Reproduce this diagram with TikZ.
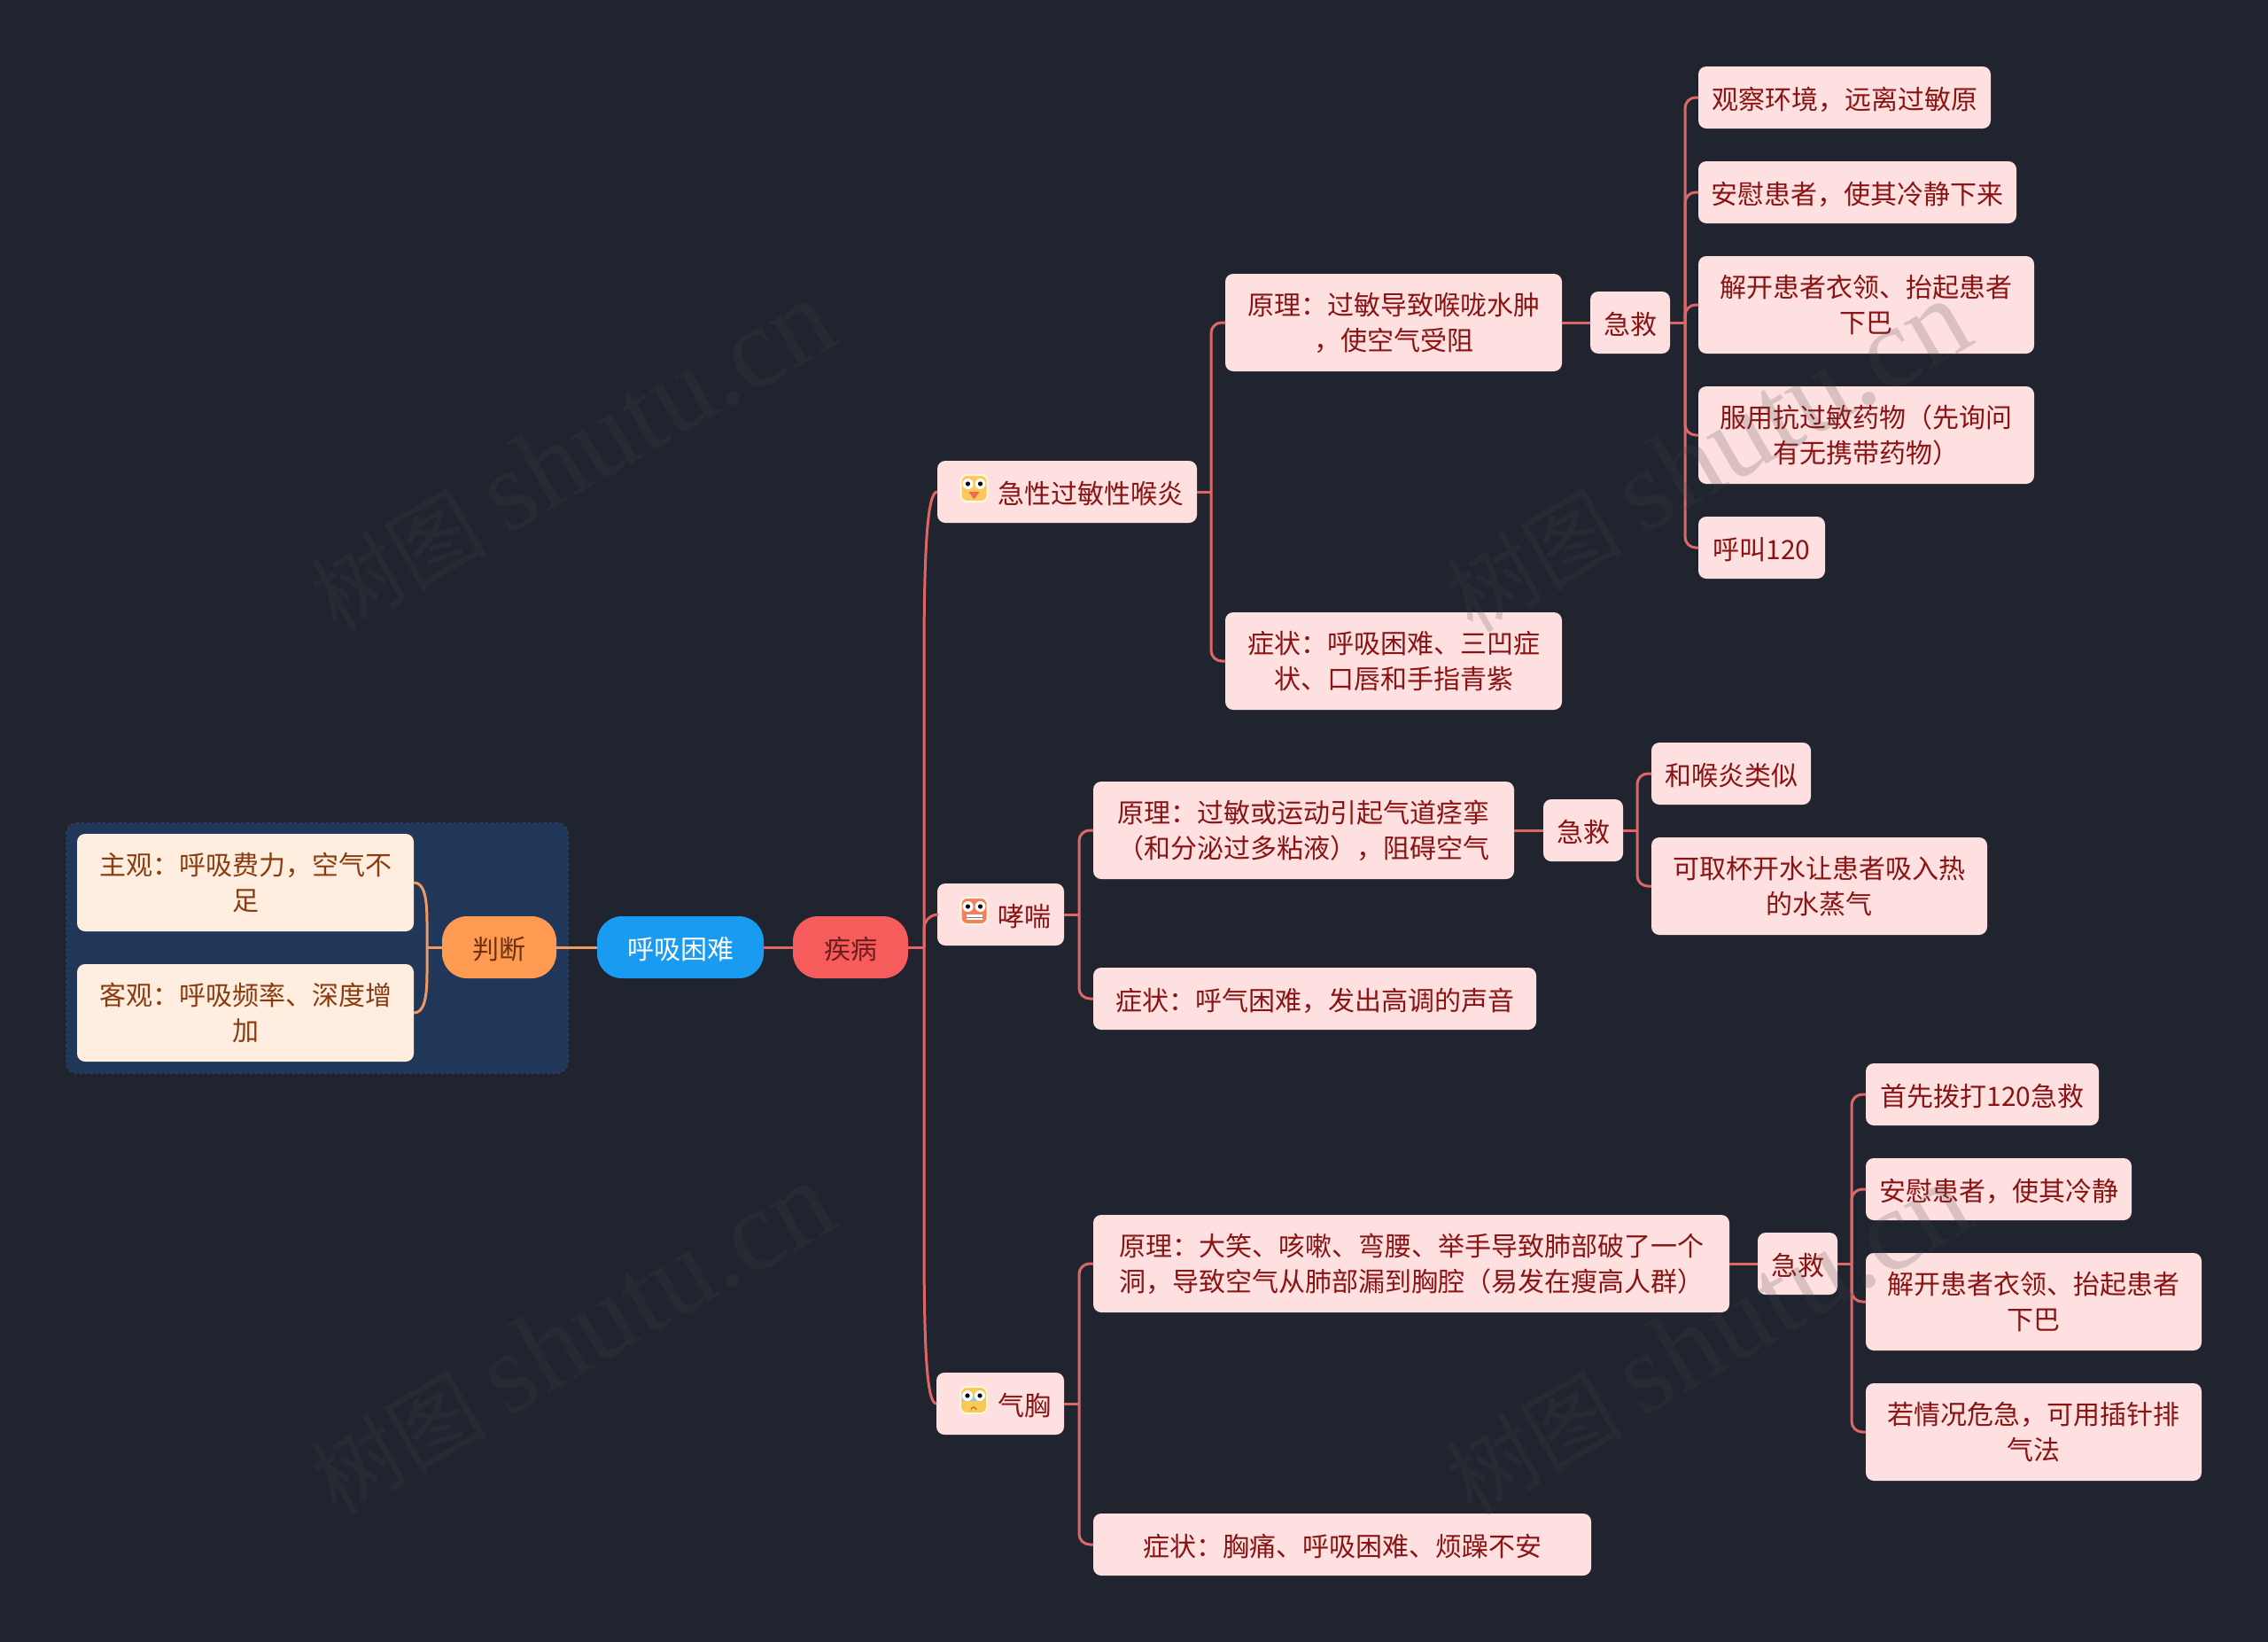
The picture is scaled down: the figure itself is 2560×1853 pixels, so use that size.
\documentclass[tikz,border=0pt]{standalone}
\usepackage{fontspec}
\setmainfont{Noto Sans CJK SC}
\newfontfamily\wmlatin{Liberation Serif}
\usetikzlibrary{calc}
\definecolor{bgc}{HTML}{20242F}
\definecolor{groupc}{HTML}{21375A}
\definecolor{groupe}{HTML}{2A3D5E}
\definecolor{pinkc}{HTML}{FFE0E0}
\definecolor{pinkt}{HTML}{8A1414}
\definecolor{creamc}{HTML}{FFEEE0}
\definecolor{creamt}{HTML}{8A3C10}
\definecolor{orangec}{HTML}{FF9A52}
\definecolor{oranget}{HTML}{6E3210}
\definecolor{redc}{HTML}{F75C5C}
\definecolor{redt}{HTML}{6E1C1C}
\definecolor{bluec}{HTML}{1A9BF2}
\definecolor{linec}{HTML}{E06666}
\definecolor{linef}{HTML}{F09A60}
\definecolor{wmc}{HTML}{464646}
\definecolor{iconedge}{HTML}{FFF6E0}
\definecolor{facey}{HTML}{FDC75B}
\definecolor{facer}{HTML}{F47F5E}
\definecolor{facep}{HTML}{F9C956}
\definecolor{tongue}{HTML}{E96B5B}
\definecolor{tear}{HTML}{96C8E1}
\definecolor{frown}{HTML}{BE6E32}
\tikzset{
  base/.style={inner sep=0pt,outer sep=0pt,align=center,font=\fontsize{30}{40}\selectfont,
    execute at begin node={\rule{0pt}{29.5pt}}},
  pinkbox/.style={base,fill=pinkc,text=pinkt,rounded corners=9pt},
  creambox/.style={base,fill=creamc,text=creamt,rounded corners=9pt},
  pillorange/.style={base,fill=orangec,text=oranget,rounded corners=28pt},
  pillred/.style={base,fill=redc,text=redt,rounded corners=28pt},
  pillblue/.style={base,fill=bluec,text=white,rounded corners=28pt},
  conn/.style={draw=linec,line width=3pt,rounded corners=12pt},
  connf/.style={draw=linef,line width=3pt},
  wm/.style={text=wmc,text opacity=.2,rotate=30,inner sep=0pt,font=\fontsize{100}{120}\selectfont},
  iconbox/.style={draw=iconedge,line width=2pt,rounded corners=7pt},
}
\newcommand{\mmnode}[7]{%
  \pgfmathsetmacro\mmcx{(#3+#5)/2}\pgfmathsetmacro\mmcy{(#4+#6)/2}%
  \pgfmathsetmacro\mmw{#5-#3}\pgfmathsetmacro\mmh{#6-#4}%
  \node[#2,minimum width=\mmw pt,minimum height=\mmh pt] (#1) at (\mmcx,\mmcy) {#7};}
\newcommand{\eyes}{%
  \fill[white] (-7,-5) circle (6);\fill[white] (7,-5) circle (6);
  \fill[black] (-7,-5) circle (2.6);\fill[black] (7,-5) circle (2.6);}
\newcommand{\wmark}[3]{\node[wm] (#1) at (#2,#3) {树图 {\wmlatin\fontsize{130}{120}\selectfont shutu.cn}};}
\begin{document}
\begin{tikzpicture}[x=1pt,y=-1pt]
\useasboundingbox (0,0) rectangle (2560,1853);
\fill[bgc] (0,0) rectangle (2560,1853);
% group background
\mmnode{grp}{fill=groupc,draw=groupe,dashed,line width=2pt,rounded corners=12pt}{75}{929}{641}{1211}{}
% spines
\coordinate (s0) at (1043,0);
\coordinate (sL) at (482,0);
\coordinate (s1) at (1367,0);
\coordinate (s1b) at (1902,0);
\coordinate (s2) at (1218,0);
\coordinate (s2b) at (1848,0);
\coordinate (s3) at (1218,0);
\coordinate (s3b) at (2090,0);
% main
\mmnode{root}{pillblue}{674}{1034}{862}{1104}{呼吸困难}
\mmnode{judge}{pillorange}{499}{1034}{628}{1104}{判断}
\mmnode{dis}{pillred}{895}{1034}{1025}{1104}{疾病}
\mmnode{sub}{creambox}{87}{941}{467}{1051}{主观：呼吸费力，空气不\\足}
\mmnode{obj}{creambox}{87}{1088}{467}{1198}{客观：呼吸频率、深度增\\加}
% branch 1
\mmnode{a}{pinkbox}{1058}{520}{1351}{590}{\hspace*{54pt}急性过敏性喉炎}
\mmnode{a1}{pinkbox}{1383}{309}{1763}{419}{原理：过敏导致喉咙水肿\\，使空气受阻}
\mmnode{a2}{pinkbox}{1383}{691}{1763}{801}{症状：呼吸困难、三凹症\\状、口唇和手指青紫}
\mmnode{ae}{pinkbox}{1795}{329}{1885}{399}{急救}
\mmnode{al1}{pinkbox}{1917}{75}{2247}{145}{观察环境，远离过敏原}
\mmnode{al2}{pinkbox}{1917}{182}{2276}{252}{安慰患者，使其冷静下来}
\mmnode{al3}{pinkbox}{1917}{289}{2296}{399}{解开患者衣领、抬起患者\\下巴}
\mmnode{al4}{pinkbox}{1917}{436}{2296}{546}{服用抗过敏药物（先询问\\有无携带药物）}
\mmnode{al5}{pinkbox}{1917}{583}{2060}{653}{呼叫120}
% branch 2
\mmnode{b}{pinkbox}{1058}{997}{1201}{1067}{\hspace*{54pt}哮喘}
\mmnode{b1}{pinkbox}{1234}{882}{1709}{992}{原理：过敏或运动引起气道痉挛\\（和分泌过多粘液），阻碍空气}
\mmnode{b2}{pinkbox}{1234}{1092}{1734}{1162}{症状：呼气困难，发出高调的声音}
\mmnode{be}{pinkbox}{1742}{902}{1832}{972}{急救}
\mmnode{bl1}{pinkbox}{1864}{838}{2044}{908}{和喉炎类似}
\mmnode{bl2}{pinkbox}{1864}{945}{2243}{1055}{可取杯开水让患者吸入热\\的水蒸气}
% branch 3
\mmnode{c}{pinkbox}{1057}{1549}{1201}{1619}{\hspace*{54pt}气胸}
\mmnode{c1}{pinkbox}{1234}{1371}{1952}{1481}{原理：大笑、咳嗽、弯腰、举手导致肺部破了一个\\洞，导致空气从肺部漏到胸腔（易发在瘦高人群）}
\mmnode{c2}{pinkbox}{1234}{1708}{1796}{1778}{症状：胸痛、呼吸困难、烦躁不安}
\mmnode{ce}{pinkbox}{1984}{1391}{2074}{1461}{急救}
\mmnode{cl1}{pinkbox}{2106}{1200}{2369}{1270}{首先拨打120急救}
\mmnode{cl2}{pinkbox}{2106}{1307}{2406}{1377}{安慰患者，使其冷静}
\mmnode{cl3}{pinkbox}{2106}{1414}{2485}{1524}{解开患者衣领、抬起患者\\下巴}
\mmnode{cl4}{pinkbox}{2106}{1561}{2485}{1671}{若情况危急，可用插针排\\气法}
% connectors, main
\draw[connf] (judge.east) -- (root.west);
\draw[connf] (judge.west) -- (judge.west -| sL);
\draw[connf] (sub.east) .. controls ($(sub.east)+(11,0)$) and ($(sub.east -| sL)+(0,14)$) .. ($(sub.east -| sL)+(0,45)$) -- ($(obj.east -| sL)+(0,-45)$) .. controls ($(obj.east -| sL)+(0,-14)$) and ($(obj.east)+(11,0)$) .. (obj.east);
\draw[conn] (root.east) -- (dis.west);
\draw[conn] (dis.east) -- (dis.east -| s0);
\draw[conn,rounded corners=0pt] ($(a.west -| s0)+(0,190)$) .. controls ($(a.west -| s0)+(0,60)$) and ($(a.west)+(-11,0)$) .. (a.west);
\draw[conn,rounded corners=0pt] ($(a.west -| s0)+(0,190)$) -- ($(c.west -| s0)+(0,-190)$) .. controls ($(c.west -| s0)+(0,-60)$) and ($(c.west)+(-11,0)$) .. (c.west);
\draw[conn,rounded corners=16pt] (dis.east -| s0) -- (s0 |- b.west) -- (b.west);
% branch 1
\draw[conn] (a.east) -- (a.east -| s1);
\draw[conn] (a1.west) -| (s1 |- a.east) |- (a2.west);
\draw[conn] (a1.east) -- (ae.west);
\draw[conn] (ae.east) -- (ae.east -| s1b);
\draw[conn] (al1.west) -| (s1b |- ae.east) |- (al5.west);
\draw[conn] (s1b |- ae.east) |- (al2.west);
\draw[conn] (s1b |- ae.east) |- (al3.west);
\draw[conn] (s1b |- ae.east) |- (al4.west);
% branch 2
\draw[conn] (b.east) -- (b.east -| s2);
\draw[conn] (b1.west) -| (s2 |- b.east) |- (b2.west);
\draw[conn] (b1.east) -- (be.west);
\draw[conn] (be.east) -- (be.east -| s2b);
\draw[conn] (bl1.west) -| (s2b |- be.east) |- (bl2.west);
% branch 3
\draw[conn] (c.east) -- (c.east -| s3);
\draw[conn] (c1.west) -| (s3 |- c.east) |- (c2.west);
\draw[conn] (c1.east) -- (ce.west);
\draw[conn] (ce.east) -- (ce.east -| s3b);
\draw[conn] (cl1.west) -| (s3b |- ce.east) |- (cl4.west);
\draw[conn] (s3b |- ce.east) |- (cl2.west);
\draw[conn] (s3b |- ce.east) |- (cl3.west);
% icons
\begin{scope}[shift={($(a.west)+(41.5,-4)$)}]
  \filldraw[iconbox,fill=facey] (-15,-15) rectangle (15,15);
  \eyes
  \fill[tongue] (-6,4) -- (6,4) -- (2.5,9) -- (-2.5,9) -- cycle;
  \fill[tongue] (0,9) circle (2.6);
\end{scope}
\begin{scope}[shift={($(b.west)+(41.5,-4)$)}]
  \filldraw[iconbox,fill=facer] (-15,-15) rectangle (15,15);
  \eyes
  \fill[white] (-9,4) rectangle (9,10);
  \draw[gray,line width=.6pt] (-9,7) -- (9,7);
\end{scope}
\begin{scope}[shift={($(c.west)+(42,-4)$)}]
  \filldraw[iconbox,fill=facep] (-15,-15) rectangle (15,15);
  \fill[tear] (-13,-4) rectangle (13,1);
  \eyes
  \draw[frown,line width=1.2pt] (-3,11) .. controls (-2,7) and (2,7) .. (3,11);
\end{scope}
% watermarks
\wmark{w1}{645}{515}
\wmark{w2}{1927}{515}
\wmark{w3}{645}{1511}
\wmark{w4}{1927}{1511}
\end{tikzpicture}
\end{document}
